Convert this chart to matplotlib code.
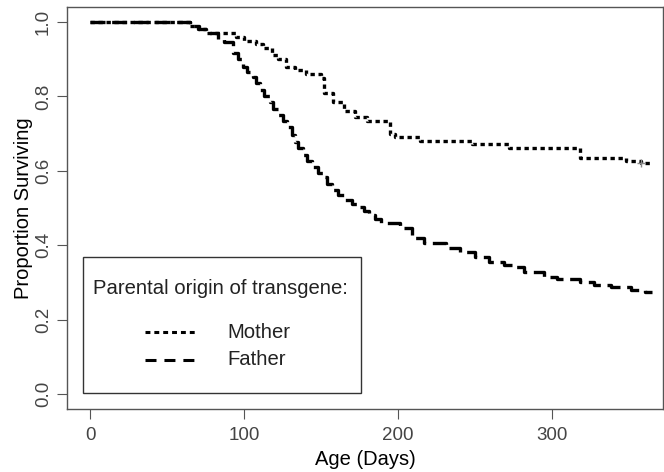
import matplotlib
matplotlib.use("Agg")
import matplotlib.pyplot as plt
from matplotlib.lines import Line2D
from matplotlib.patches import Rectangle

plt.rcParams['font.family'] = ['Liberation Sans', 'DejaVu Sans']

# Kaplan-Meier style step curves
mother_days = [0, 65, 70, 75, 95, 100, 108, 112, 118, 122, 127, 133, 140, 150, 152, 158,
               165, 172, 180, 195, 198, 214, 248, 272, 318, 348, 358, 365]
mother_surv = [1.0, 0.99, 0.98, 0.97, 0.96, 0.95, 0.94, 0.93, 0.91, 0.90, 0.88, 0.87, 0.86, 0.85,
               0.81, 0.785, 0.76, 0.745, 0.735, 0.70, 0.69, 0.68, 0.672, 0.661, 0.634, 0.626,
               0.621, 0.621]

father_days = [0, 65, 71, 78, 83, 87, 93, 96, 99, 102, 106, 108, 110, 113, 117, 119, 122, 125,
               128, 131, 133, 135, 138, 141, 144, 148, 151, 154, 157, 161, 165, 170, 174, 178,
               181, 185, 189, 201, 209, 217, 231, 240, 250, 259, 269, 275, 282, 295, 303, 318,
               327, 338, 351, 360, 365]
father_surv = [1.0, 0.99, 0.98, 0.97, 0.955, 0.945, 0.917, 0.90, 0.879, 0.865, 0.852, 0.835,
               0.817, 0.80, 0.785, 0.767, 0.75, 0.735, 0.718, 0.697, 0.677, 0.66, 0.642, 0.626,
               0.61, 0.595, 0.583, 0.565, 0.548, 0.535, 0.522, 0.512, 0.503, 0.492, 0.481, 0.47,
               0.46, 0.446, 0.419, 0.406, 0.392, 0.382, 0.368, 0.355, 0.347, 0.341, 0.328, 0.315,
               0.309, 0.301, 0.293, 0.288, 0.28, 0.274, 0.274]

x_ticks = [0, 100, 200, 300]
y_ticks = [0.0, 0.2, 0.4, 0.6, 0.8, 1.0]
legend_title = 'Parental origin of transgene:'
legend_labels = ['Mother', 'Father']

fig = plt.figure(figsize=(6.64, 4.72), dpi=100)
ax = fig.add_axes([0.101, 0.1335, 0.8975, 0.8515])

grey = '#555555'
mother_dash = (1.3, 1.1)
father_dash = (4.5, 2.0)
ax.step(mother_days, mother_surv, where='post', color='black', lw=2.4,
        dashes=mother_dash, dash_capstyle='butt')
ax.step(father_days, father_surv, where='post', color='black', lw=2.4,
        dashes=father_dash, dash_capstyle='butt')
ax.plot(mother_days[-2:-1], mother_surv[-2:-1], marker='+', ms=6, color='#888888', lw=0)

ax.set_xlim(-15, 372)
ax.set_ylim(-0.04, 1.04)
ax.set_xticks(x_ticks)
ax.set_yticks(y_ticks)
ax.set_yticklabels([f'{v:.1f}' for v in y_ticks], rotation=90, va='center')
ax.tick_params(axis='both', colors=grey, labelcolor='#444444', labelsize=13.5,
               length=7, width=0.8, direction='out')
ax.tick_params(axis='x', pad=6)
ax.tick_params(axis='y', pad=4)
for s in ax.spines.values():
    s.set_color(grey)
    s.set_linewidth(1.0)

ax.set_xlabel('Age (Days)', fontsize=14.5, labelpad=4)
ax.set_ylabel('Proportion Surviving', fontsize=14.5, labelpad=1)

# legend box, drawn by hand so the padding matches the R legend
T = ax.transAxes
ax.add_patch(Rectangle((0.0268, 0.0398), 0.4665, 0.3382, transform=T, fill=True,
                       facecolor='white', edgecolor='#333333', lw=1.0, zorder=5))
ax.text(0.0436, 0.301, legend_title, transform=T, fontsize=14.6, va='center',
        ha='left', color='#222222', zorder=6)
for ypos, lab, dsh in [(0.1915, legend_labels[0], (1.6, 1.3)),
                       (0.1219, legend_labels[1], (3.6, 2.6))]:
    ax.add_line(Line2D([0.1309, 0.2181], [ypos, ypos], transform=T, color='black',
                       lw=2.2, dashes=dsh, dash_capstyle='butt', zorder=6))
    ax.text(0.2685, ypos, lab, transform=T, fontsize=14.6, va='center', ha='left',
            color='#222222', zorder=6)

fig.savefig('out.png', dpi=100)
